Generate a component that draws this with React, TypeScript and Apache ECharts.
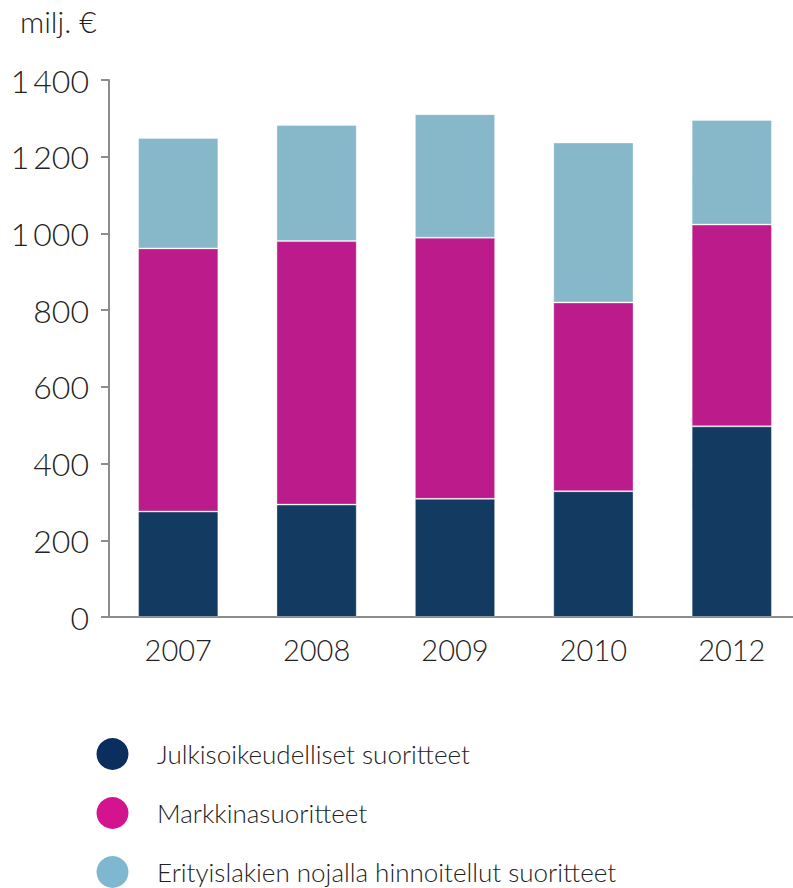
import React, { useEffect, useRef } from "react";
import * as echarts from "echarts";

const years = ["2007", "2008", "2009", "2010", "2012"];
const julkisoikeudelliset = [275, 293, 308, 328, 497];
const markkina = [686, 687, 681, 492, 526];
const erityislakien = [288, 303, 322, 417, 273];
const seriesNames = [
  "Julkisoikeudelliset suoritteet",
  "Markkinasuoritteet",
  "Erityislakien nojalla hinnoitellut suoritteet",
];
const barColors = ["#133a61", "#bb1b8b", "#87b8ca"];
const legendColors = ["#0a2f5f", "#d4148f", "#7fb7d0"];

const FONT = "Lato";

export default function App() {
  const ref = useRef<HTMLDivElement>(null);
  useEffect(() => {
    const chart = echarts.init(ref.current!, null, { renderer: "svg" });
    const data = [julkisoikeudelliset, markkina, erityislakien];
    const legendY = [754, 813, 872];
    const legendGraphics: any[] = [];
    seriesNames.forEach((n, i) => {
      legendGraphics.push({
        type: "circle",
        shape: { cx: 112.5, cy: legendY[i], r: 16 },
        style: { fill: legendColors[i] },
      });
      legendGraphics.push({
        type: "text",
        x: 157,
        y: legendY[i],
        style: {
          text: n,
          font: `300 26px ${FONT}`,
          fill: "#222",
          verticalAlign: "middle",
          align: "left",
        },
      });
    });
    chart.setOption({
      animation: false,
      textStyle: { fontFamily: FONT },
      grid: { left: 109, right: 0, top: 80, bottom: 271, containLabel: false },
      graphic: [
        {
          type: "text",
          left: 20,
          top: 6,
          style: { text: "milj. €", font: `300 30px ${FONT}`, fill: "#222" },
        },
        ...legendGraphics,
      ],
      xAxis: {
        type: "category",
        data: years,
        axisLine: { lineStyle: { color: "#8c8c8c", width: 2 } },
        axisTick: { length: 8, lineStyle: { color: "#8c8c8c", width: 2 } },
        axisLabel: { fontSize: 29, fontWeight: 300, color: "#222", margin: 18, fontFamily: FONT },
      },
      yAxis: {
        type: "value",
        min: 0,
        max: 1400,
        interval: 200,
        splitLine: { show: false },
        axisLine: { show: true, lineStyle: { color: "#8c8c8c", width: 2 } },
        axisTick: { show: true, length: 8, lineStyle: { color: "#8c8c8c", width: 2 } },
        axisLabel: {
          fontSize: 32,
          fontWeight: 300,
          color: "#222",
          margin: 20,
          fontFamily: FONT,
          formatter: (v: number) =>
            v >= 1000 ? `${Math.floor(v / 1000)}\u2009${String(v % 1000).padStart(3, "0")}` : String(v),
        },
      },
      series: data.map((d, i) => ({
        name: seriesNames[i],
        type: "bar",
        stack: "total",
        barWidth: "58%",
        data: d,
        itemStyle: {
          color: barColors[i],
          borderColor: "rgba(255,255,255,0.35)",
          borderWidth: 1,
        },
      })),
    });
    return () => chart.dispose();
  }, []);
  return (
    <div
      style={{
        position: "fixed",
        left: 0,
        top: 0,
        width: 793,
        height: 888,
        overflow: "hidden",
        background: "#fff",
      }}
    >
      <div ref={ref} style={{ width: 801, height: 888 }} />
    </div>
  );
}
